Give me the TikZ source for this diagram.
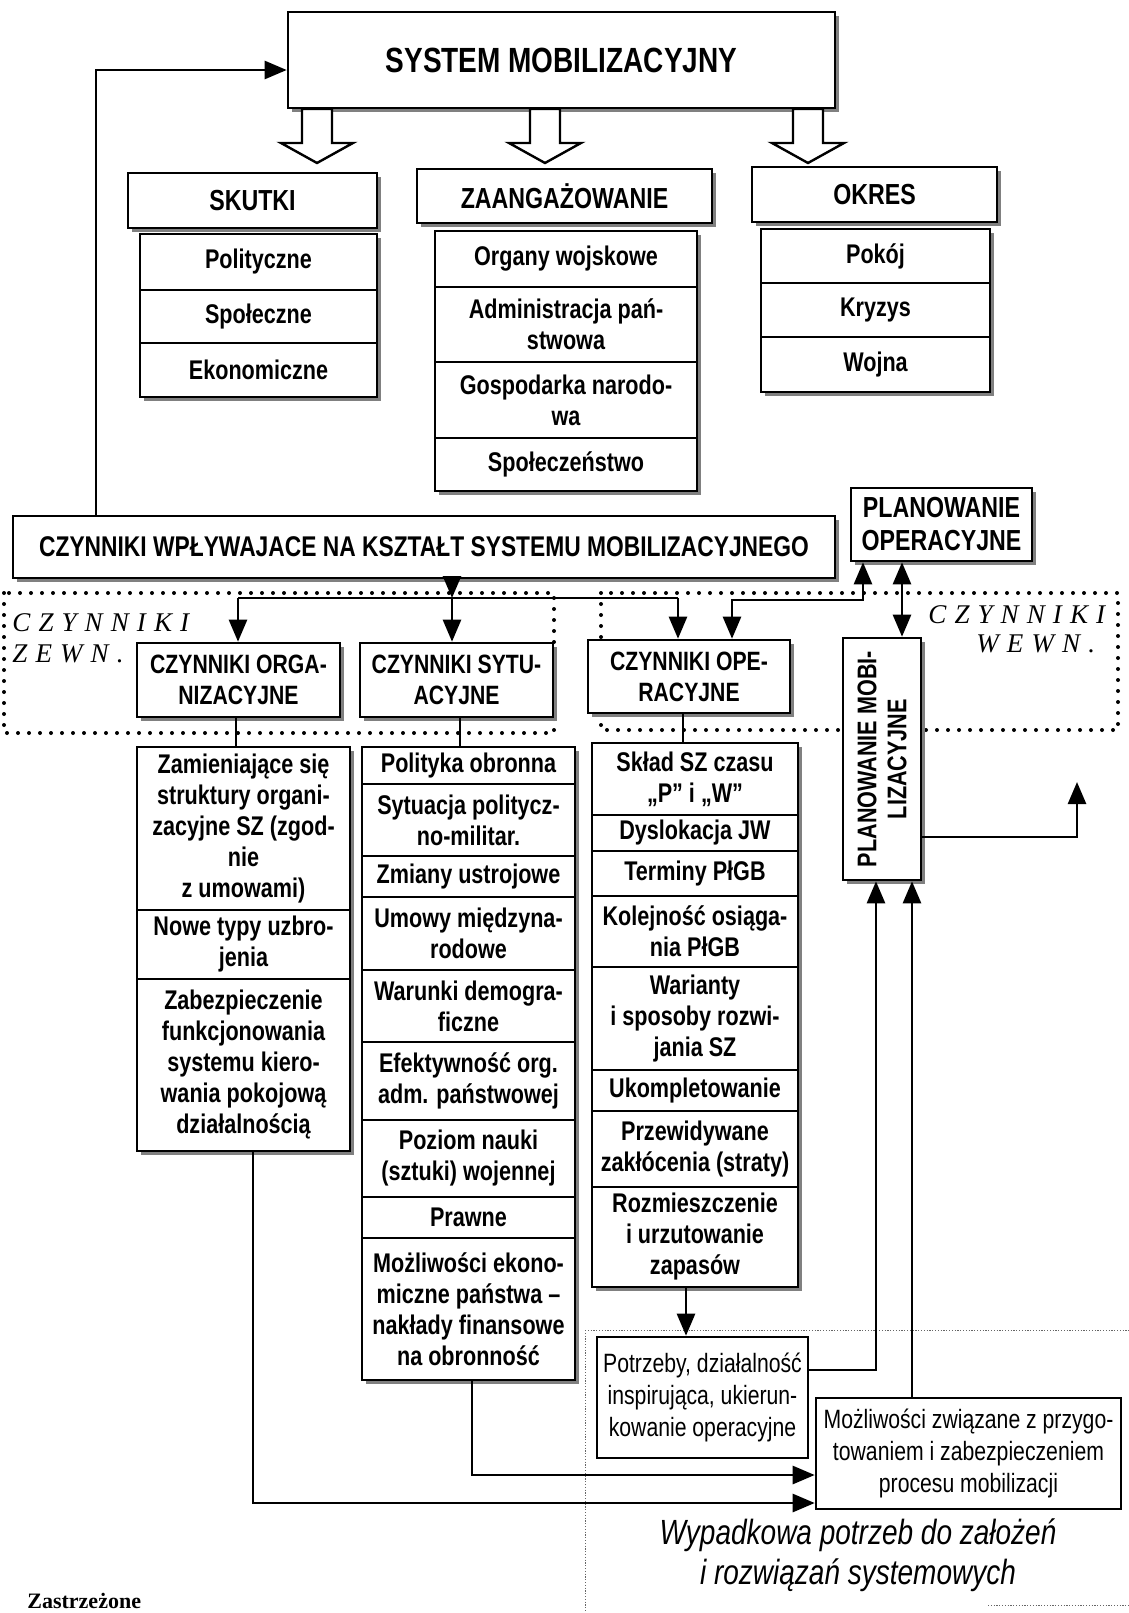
\documentclass[tikz,border=0pt]{standalone}
\usepackage{fontspec}
\setmainfont{Liberation Sans}
\newfontfamily\nar[FakeStretch=0.8]{Liberation Sans}
\newfontfamily\tms{Liberation Serif}
\usetikzlibrary{arrows.meta,shadows}
\makeatletter
\def\lspc#1{\lspc@loop#1\relax}
\def\lspc@loop#1{\ifx#1\relax\else#1\kern.3em\expandafter\lspc@loop\fi}
\makeatother
\newcommand\bx[7]{\node[#1, minimum width={(#4-#2)*0.5pt}, minimum height={(#5-#3)*0.5pt}] (#6) at ({(#2+#4)/2},{(#3+#5)/2}) {#7};}
\tikzset{
  basebox/.style={draw, line width=1.3pt, fill=white, inner sep=0pt, align=center},
  shd/.style={general shadow={fill=black!50, shadow xshift=1.8pt, shadow yshift=-1.8pt}},
  cell/.style={basebox, shd, font=\nar\bfseries\fontsize{13.5pt}{15.5pt}\selectfont},
  hdr/.style={basebox, shd, font=\nar\bfseries\fontsize{14.5pt}{16.5pt}\selectfont},
  bighdr/.style={basebox, shd, font=\nar\bfseries\fontsize{17.5pt}{20pt}\selectfont},
  rowhdr/.style={basebox, shd, font=\nar\bfseries\fontsize{13.25pt}{15.5pt}\selectfont},
  plainbox/.style={basebox, font=\nar\fontsize{13.25pt}{16pt}\selectfont},
  conn/.style={line width=1.3pt},
  arr/.style={conn, -{Triangle[width=9pt,length=11pt]}},
  dbl/.style={conn, {Triangle[width=9pt,length=11pt]}-{Triangle[width=9pt,length=11pt]}},
  dots/.style={line width=2pt, line cap=round, dash pattern=on 0pt off 5.5pt},
  hollow/.style={draw, line width=1.2pt, fill=white, line join=miter},
  scanline/.style={line width=0.5pt, dash pattern=on 0.6pt off 0.8pt, black!60},
  zlab/.style={inner sep=0pt, font=\tms\itshape\fontsize{13.5pt}{15pt}\selectfont}
}
\begin{document}
\begin{tikzpicture}[x=0.5pt, y=-0.5pt]
\useasboundingbox (0,0) rectangle (1129,1613);

% dotted regions
\draw[dots] (4,593) rectangle (554,733);
\draw[dots] (601,593) rectangle (1118,730);

% scan lines
\draw[scanline] (585,1330) -- (1129,1330);
\draw[scanline] (585,1330) -- (585,1613);
\draw[scanline] (988,1605) -- (1129,1605);

% top
\bx{bighdr}{288}{12}{835}{108}{sys}{SYSTEM MOBILIZACYJNY}
\foreach \cx in {317,545,808}{
  \draw[hollow] (\cx-15,109) -- (\cx+15,109) -- (\cx+15,143) -- (\cx+36,143) -- (\cx,163) -- (\cx-36,143) -- (\cx-15,143) -- cycle;
}
\bx{hdr}{128}{173}{377}{228}{skutki}{SKUTKI}
\bx{hdr}{417}{169}{712}{223}{zaang}{ZAANGAŻOWANIE}
\bx{hdr}{752}{167}{997}{222}{okres}{OKRES}

\bx{cell}{140}{234}{377}{290}{sk1}{Polityczne}
\bx{cell}{140}{290}{377}{343}{sk2}{Społeczne}
\bx{cell}{140}{343}{377}{397}{sk3}{Ekonomiczne}

\bx{cell}{435}{231}{697}{287}{za1}{Organy wojskowe}
\bx{cell}{435}{287}{697}{362}{za2}{Administracja pań-\\stwowa}
\bx{cell}{435}{362}{697}{438}{za3}{Gospodarka narodo-\\wa}
\bx{cell}{435}{438}{697}{491}{za4}{Społeczeństwo}

\bx{cell}{761}{229}{990}{283}{ok1}{Pokój}
\bx{cell}{761}{283}{990}{337}{ok2}{Kryzys}
\bx{cell}{761}{337}{990}{392}{ok3}{Wojna}

% middle band
\bx{hdr}{13}{516}{835}{578}{wpl}{\fontsize{14.25pt}{16pt}\selectfont CZYNNIKI WPŁYWAJACE NA KSZTAŁT SYSTEMU MOBILIZACYJNEGO}
\bx{hdr}{851}{488}{1032}{561}{planop}{PLANOWANIE\\OPERACYJNE}

\bx{rowhdr}{137}{643}{340}{717}{org}{CZYNNIKI ORGA-\\NIZACYJNE}
\bx{rowhdr}{360}{643}{553}{717}{syt}{CZYNNIKI SYTU-\\ACYJNE}
\bx{rowhdr}{588}{640}{790}{713}{oper}{CZYNNIKI OPE-\\RACYJNE}

\fill[black!50] (847,642) rectangle (925,884);
\node[basebox, rotate=90, font=\nar\bfseries\fontsize{13.5pt}{15pt}\selectfont, minimum width={242*0.5pt}, minimum height={78*0.5pt}] (planmob) at (882,759) {PLANOWANIE MOBI-\\LIZACYJNE};

\node[zlab, anchor=west] (zw1) at (12,623) {\lspc{CZYNNIKI}};
\node[zlab, anchor=west] (zw2) at (12,654) {\lspc{ZEWN.}};
\node[zlab, anchor=west] (ww1) at (928,615) {\lspc{CZYNNIKI}};
\node[zlab, anchor=west] (ww2) at (976,644) {\lspc{WEWN.}};

% columns
\bx{cell}{137}{747}{350}{910}{o1}{Zamieniające się\\struktury organi-\\zacyjne SZ (zgod-\\nie\\z umowami)}
\bx{cell}{137}{910}{350}{979}{o2}{Nowe typy uzbro-\\jenia}
\bx{cell}{137}{979}{350}{1151}{o3}{Zabezpieczenie\\funkcjonowania\\systemu kiero-\\wania pokojową\\działalnością}

\bx{cell}{362}{747}{575}{784}{s1}{Polityka obronna}
\bx{cell}{362}{784}{575}{856}{s2}{Sytuacja politycz-\\no-militar.}
\bx{cell}{362}{856}{575}{897}{s3}{Zmiany ustrojowe}
\bx{cell}{362}{897}{575}{970}{s4}{Umowy międzyna-\\rodowe}
\bx{cell}{362}{970}{575}{1042}{s5}{Warunki demogra-\\ficzne}
\bx{cell}{362}{1042}{575}{1120}{s6}{Efektywność org.\\adm. państwowej}
\bx{cell}{362}{1120}{575}{1197}{s7}{Poziom nauki\\(sztuki) wojennej}
\bx{cell}{362}{1197}{575}{1238}{s8}{Prawne}
\bx{cell}{362}{1238}{575}{1380}{s9}{Możliwości ekono-\\miczne państwa –\\nakłady finansowe\\na obronność}

\bx{cell}{592}{743}{798}{815}{p1}{Skład SZ czasu\\„P” i „W”}
\bx{cell}{592}{815}{798}{851}{p2}{Dyslokacja JW}
\bx{cell}{592}{851}{798}{896}{p3}{Terminy PłGB}
\bx{cell}{592}{896}{798}{967}{p4}{Kolejność osiąga-\\nia PłGB}
\bx{cell}{592}{967}{798}{1070}{p5}{Warianty\\i sposoby rozwi-\\jania SZ}
\bx{cell}{592}{1070}{798}{1111}{p6}{Ukompletowanie}
\bx{cell}{592}{1111}{798}{1187}{p7}{Przewidywane\\zakłócenia (straty)}
\bx{cell}{592}{1187}{798}{1287}{p8}{Rozmieszczenie\\i urzutowanie\\zapasów}

\bx{plainbox}{597}{1337}{808}{1458}{potrz}{Potrzeby, działalność\\inspirująca, ukierun-\\kowanie operacyjne}
\bx{plainbox}{816}{1398}{1121}{1509}{mozl}{Możliwości związane z przygo-\\towaniem i zabezpieczeniem\\procesu mobilizacji}

\node[font=\nar\itshape\fontsize{17.5pt}{20pt}\selectfont, align=center, inner sep=0pt] (wyp) at (858,1555) {Wypadkowa potrzeb do założeń\\i rozwiązań systemowych};
\node[font=\tms\bfseries\fontsize{11pt}{13pt}\selectfont, anchor=base west, inner sep=0pt] (zas) at (27,1608) {Zastrzeżone};

% connectors
\coordinate (fbx) at (96,0);
\draw[arr] (wpl.north -| fbx) |- ([yshift=-5pt]sys.west);

\coordinate (jl) at (238,598);
\coordinate (jn) at (452,598);
\coordinate (jr) at (678,598);
\draw[arr] (wpl.south -| jn) -- (jn);
\draw[conn] (jl) -- (jr);
\draw[arr] (jl) -- (jl |- org.north);
\draw[arr] (jn) -- (jn |- syt.north);
\draw[arr] (jr) -- (jr |- oper.north);

\coordinate (po1) at (863,0);
\coordinate (po2) at (902,0);
\coordinate (k1) at (732,600);
\draw[dbl] (planop.south -| po1) |- (k1) -- (k1 |- oper.north);
\draw[dbl] (planop.south -| po2) -- (planmob.east -| po2);

\coordinate (c1) at (236,0);
\coordinate (c2) at (460,0);
\coordinate (c3) at (683,0);
\draw[conn] (org.south -| c1) -- (o1.north -| c1);
\draw[conn] (syt.south -| c2) -- (s1.north -| c2);
\draw[conn] (oper.south -| c3) -- (p1.north -| c3);

\coordinate (c4) at (686,0);
\draw[arr] (p8.south -| c4) -- (potrz.north -| c4);

\coordinate (b1) at (253,1503);
\coordinate (b2) at (472,1475);
\draw[arr] (o3.south -| b1) |- (mozl.west |- b1);
\draw[arr] (s9.south -| b2) |- (mozl.west |- b2);

\coordinate (b3) at (876,1370);
\draw[arr] (potrz.east |- b3) -| (planmob.west -| b3);
\coordinate (b4) at (912,0);
\draw[arr] (mozl.north -| b4) -- (planmob.west -| b4);

\coordinate (b5) at (0,837);
\coordinate (fr) at (1077,782);
\draw[arr] (planmob.south |- b5) -| (fr);
\end{tikzpicture}
\end{document}
